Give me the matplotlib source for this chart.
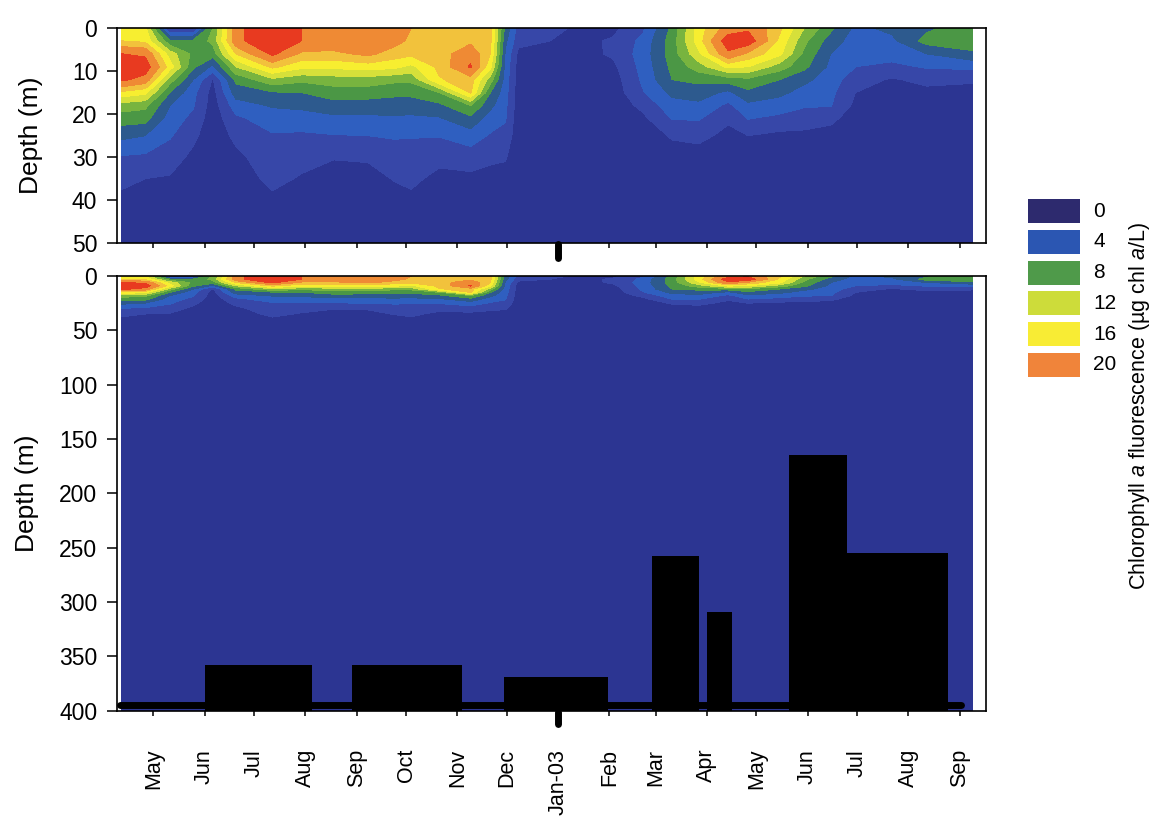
"""
Chlorophyll a fluorescence section (0-50 m and 0-400 m), Apr 2002 - Sep 2003.
Filled contours of the same station profiles drawn twice, plus black bars
along the bottom of the deep panel.
"""

import matplotlib
matplotlib.use("Agg")
import matplotlib.dates as mdates
import matplotlib.pyplot as plt
import numpy as np
import pandas as pd

plt.rcParams["font.family"] = ["Liberation Sans", "DejaVu Sans"]
plt.rcParams["mathtext.fontset"] = "custom"
plt.rcParams["mathtext.rm"] = "Liberation Sans"
plt.rcParams["mathtext.it"] = "Liberation Sans:italic"

# --- data -----------------------------------------------------------------
station_dates = [
    "2002-04-12", "2002-04-26", "2002-05-11", "2002-05-25", "2002-06-06",
    "2002-06-20", "2002-07-12", "2002-07-30", "2002-08-18", "2002-09-08",
    "2002-09-24", "2002-10-04", "2002-10-21", "2002-11-09", "2002-11-21",
    "2002-11-30", "2002-12-08", "2003-01-12", "2003-02-03", "2003-02-21",
    "2003-03-11", "2003-03-27", "2003-04-14", "2003-04-26", "2003-05-15",
    "2003-05-30", "2003-06-15", "2003-06-30", "2003-07-22", "2003-08-12",
    "2003-09-09",
]
depths = [0, 3, 6, 9, 12, 15, 18, 21, 25, 30, 35, 40, 50, 400]

# chl a (ug/L) per station, top to bottom at the depths above
profiles = [
    [15.0, 16.0, 20.5, 22.5, 21.0, 15.5, 11.0, 9.0, 6.5, 3.8, 2.5, 1.5, 0.8, 0.5],
    [14.5, 15.5, 20.0, 22.0, 19.5, 14.5, 10.5, 8.8, 6.0, 3.6, 2.0, 1.2, 0.8, 0.5],
    [1.2, 8.5, 13.0, 15.0, 11.0, 8.0, 6.0, 5.0, 4.2, 3.0, 1.8, 1.0, 0.6, 0.5],
    [1.2, 8.5, 9.5, 8.5, 6.0, 4.6, 4.2, 3.5, 2.5, 1.5, 0.8, 0.6, 0.5, 0.5],
    [10.0, 10.5, 9.0, 5.5, 1.8, 1.2, 1.0, 0.8, 0.7, 0.6, 0.6, 0.5, 0.5, 0.5],
    [19.5, 19.5, 16.0, 12.0, 8.5, 7.0, 5.0, 3.6, 2.5, 1.5, 1.0, 0.7, 0.5, 0.5],
    [24.0, 23.5, 21.0, 16.5, 11.5, 7.8, 6.2, 5.0, 3.8, 3.2, 2.5, 1.6, 0.6, 0.5],
    [20.4, 20.4, 17.5, 14.5, 10.5, 8.0, 6.5, 5.0, 3.7, 2.6, 1.8, 1.3, 0.6, 0.5],
    [19.5, 19.5, 17.5, 14.5, 11.0, 9.0, 7.2, 5.5, 3.9, 2.1, 1.3, 1.0, 0.6, 0.5],
    [19.5, 19.5, 18.5, 15.0, 11.0, 9.0, 7.0, 5.6, 4.0, 2.2, 1.4, 1.0, 0.6, 0.5],
    [19.0, 18.8, 17.0, 14.5, 10.5, 8.5, 7.0, 5.7, 4.2, 3.0, 2.1, 1.3, 0.6, 0.5],
    [18.0, 17.5, 16.5, 13.5, 10.5, 8.5, 7.0, 5.6, 4.1, 3.3, 2.4, 1.6, 0.6, 0.5],
    [17.5, 17.5, 17.0, 16.5, 15.8, 10.0, 7.5, 5.8, 4.1, 2.5, 1.5, 1.1, 0.6, 0.5],
    [17.0, 17.5, 19.5, 20.8, 17.0, 16.2, 10.0, 7.5, 5.0, 3.0, 1.5, 1.0, 0.6, 0.5],
    [16.5, 16.5, 16.0, 14.5, 11.0, 8.0, 6.5, 5.0, 3.8, 2.4, 1.3, 0.8, 0.6, 0.5],
    [7.5, 6.5, 5.8, 5.4, 5.1, 4.8, 4.5, 4.2, 3.4, 2.2, 1.2, 0.8, 0.5, 0.5],
    [3.2, 2.6, 1.5, 1.1, 1.0, 0.9, 0.8, 0.7, 0.6, 0.6, 0.5, 0.5, 0.5, 0.5],
    [1.8, 1.5, 1.1, 0.9, 0.8, 0.7, 0.6, 0.6, 0.5, 0.5, 0.5, 0.5, 0.5, 0.5],
    [1.5, 2.2, 2.3, 1.5, 1.0, 0.8, 0.7, 0.6, 0.5, 0.5, 0.5, 0.5, 0.5, 0.5],
    [3.5, 4.5, 4.8, 4.6, 4.3, 3.8, 2.5, 1.5, 1.0, 0.8, 0.6, 0.5, 0.5, 0.5],
    [8.5, 9.0, 9.0, 8.5, 8.0, 6.5, 5.2, 4.1, 2.2, 1.2, 0.8, 0.6, 0.5, 0.5],
    [15.0, 15.0, 13.5, 11.0, 8.5, 7.0, 5.5, 4.2, 2.5, 1.2, 0.8, 0.6, 0.5, 0.5],
    [19.0, 22.0, 20.0, 14.5, 9.0, 5.5, 3.5, 2.3, 1.5, 1.0, 0.7, 0.6, 0.5, 0.5],
    [20.0, 22.0, 17.5, 14.0, 9.5, 7.5, 5.5, 4.1, 2.0, 1.0, 0.7, 0.6, 0.5, 0.5],
    [16.5, 15.5, 14.5, 11.0, 8.0, 6.5, 5.0, 3.5, 1.5, 0.9, 0.6, 0.5, 0.5, 0.5],
    [12.0, 10.5, 9.5, 8.5, 6.5, 5.2, 4.2, 3.0, 1.5, 0.8, 0.6, 0.5, 0.5, 0.5],
    [8.5, 7.0, 6.0, 5.5, 5.0, 4.5, 4.1, 2.5, 1.2, 0.8, 0.6, 0.5, 0.5, 0.5],
    [5.5, 5.0, 4.5, 4.0, 2.8, 2.0, 1.5, 1.0, 0.8, 0.6, 0.5, 0.5, 0.5, 0.5],
    [6.5, 5.5, 4.8, 3.5, 1.8, 1.0, 0.8, 0.7, 0.6, 0.5, 0.5, 0.5, 0.5, 0.5],
    [7.5, 8.8, 6.0, 4.2, 2.5, 1.5, 1.0, 0.8, 0.6, 0.5, 0.5, 0.5, 0.5, 0.5],
    [9.5, 9.5, 7.5, 4.5, 2.2, 1.5, 1.0, 0.8, 0.6, 0.5, 0.5, 0.5, 0.5, 0.5],
]

# black bars in the deep panel (top depth in m, bar reaches 400 m)
bar_start = ["2002-06-01", "2002-08-29", "2002-11-29", "2003-02-27",
             "2003-04-01", "2003-05-21", "2003-06-25"]
bar_end = ["2002-08-05", "2002-11-04", "2003-01-31", "2003-03-27",
           "2003-04-16", "2003-06-25", "2003-08-25"]
bar_top = [358, 358, 369, 258, 309, 165, 255]
floor_dates = ["2002-04-11", "2003-09-02"]
floor_depth = 395

month_labels = ["May", "Jun", "Jul", "Aug", "Sep", "Oct", "Nov", "Dec",
                "Jan-03", "Feb", "Mar", "Apr", "May", "Jun", "Jul", "Aug", "Sep"]

legend_values = [0, 4, 8, 12, 16, 20]
legend_colors = ["#2d2a6e", "#2b56b2", "#4f9a4a", "#cddc3a", "#f8ec34", "#f0843a"]

levels = [0, 2, 4, 6, 8, 10, 12, 14, 16, 18, 20.5, 40]
fill_colors = ["#2c3592", "#3747a8", "#2f5fc0", "#2d5a8e", "#4b9745", "#78b43f",
               "#d6e03a", "#f7ee30", "#f2c23c", "#ef8a34", "#e83a20"]

# --- plot -----------------------------------------------------------------
W, H = 1158, 818
fig = plt.figure(figsize=(W / 100, H / 100), dpi=100)


def px_axes(left, top, right, bottom):
    return fig.add_axes([left / W, 1 - bottom / H, (right - left) / W, (bottom - top) / H])


x_st = mdates.date2num(pd.to_datetime(station_dates))
X, Y = np.meshgrid(x_st, depths)
Z = np.array(profiles).T

month_ticks = mdates.date2num(pd.date_range("2002-05-01", "2003-09-01", freq="MS"))
jan03 = mdates.date2num(pd.Timestamp("2003-01-01"))
xlim = mdates.date2num(pd.to_datetime(["2002-04-09", "2003-09-17"]))

ax_top = px_axes(117, 28, 986, 243.3)
ax_bot = px_axes(117, 276, 986, 710.5)

for ax in (ax_top, ax_bot):
    ax.contourf(X, Y, Z, levels=levels, colors=fill_colors, zorder=1)
    ax.set_xlim(xlim)
    ax.set_xticks(month_ticks)
    for sp in ax.spines.values():
        sp.set_linewidth(1.2)
    ax.tick_params(axis="y", direction="out", length=7.2, width=1.1,
                   labelsize=16.5, pad=7)
    ax.tick_params(axis="x", direction="out", length=3.6, width=1.1)

ax_top.set_ylim(50, 0)
ax_top.set_yticks(range(0, 51, 10))
ax_top.set_xticklabels([])
ax_top.set_ylabel("Depth (m)", fontsize=19)
ax_top.yaxis.set_label_coords(-0.085, 0.5)

ax_bot.set_ylim(400, 0)
ax_bot.set_yticks(range(0, 401, 50))
ax_bot.set_xticklabels(month_labels, rotation=90, fontsize=15.5, va="top")
ax_bot.tick_params(axis="x", pad=24)
ax_bot.set_ylabel("Depth (m)", fontsize=19)
ax_bot.yaxis.set_label_coords(-0.090, 0.5)

# bars from their top depth down to 400 m
b0 = mdates.date2num(pd.to_datetime(bar_start))
b1 = mdates.date2num(pd.to_datetime(bar_end))
ax_bot.bar(b0, [400 - t for t in bar_top], width=b1 - b0, bottom=bar_top,
           align="edge", color="black", zorder=2)
ax_bot.plot(mdates.date2num(pd.to_datetime(floor_dates)), [floor_depth] * 2,
            color="black", lw=5, solid_capstyle="round", zorder=3, clip_on=False)

# heavy Jan-03 marker below each panel
ax_top.plot([jan03, jan03], [-0.005, -0.07], color="black", lw=5,
            solid_capstyle="round", transform=ax_top.get_xaxis_transform(),
            clip_on=False, zorder=4)
ax_bot.plot([jan03, jan03], [-0.003, -0.032], color="black", lw=5,
            solid_capstyle="round", transform=ax_bot.get_xaxis_transform(),
            clip_on=False, zorder=4)

# legend boxes
ax_leg = px_axes(1028, 199, 1080, 377)
ax_leg.barh(range(len(legend_values)), 1, height=0.78, color=legend_colors)
ax_leg.set_xlim(0, 1)
ax_leg.set_ylim(len(legend_values) - 1 + 0.39, -0.39)
ax_leg.axis("off")
for i, v in enumerate(legend_values):
    ax_leg.text(1.25, i, str(v), fontsize=15, va="center", ha="left",
                transform=ax_leg.get_yaxis_transform())

fig.text(1140 / W, 1 - 406 / H,
         r"Chlorophyll $\mathit{a}$ fluorescence (µg chl $\mathit{a}$/L)",
         rotation=90, ha="center", va="center", fontsize=15.5)

fig.savefig("out.png", dpi=100)
